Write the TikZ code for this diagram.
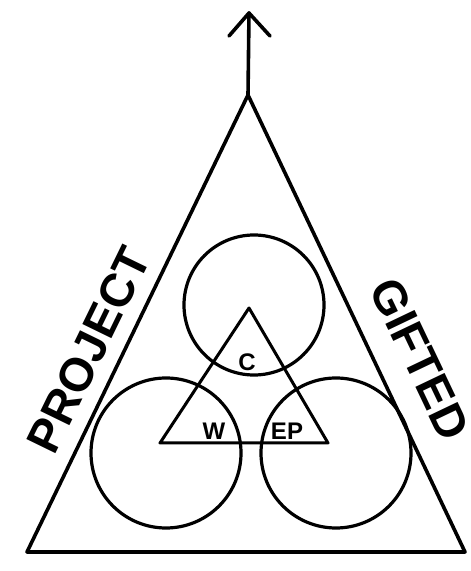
\documentclass[tikz,border=0pt]{standalone}
\usepackage{fontspec}
\setmainfont{Liberation Sans}
\begin{document}
\begin{tikzpicture}[x=1pt,y=1pt,
  heavy/.style={line width=3.6pt, line join=round, line cap=round},
  ring/.style={line width=3.2pt},
  inner/.style={line width=3pt, line join=round},
  biglabel/.style={font=\fontsize{47}{47}\selectfont\bfseries, inner sep=0pt},
  smalllabel/.style={font=\fontsize{24}{24}\selectfont\bfseries, inner sep=0pt}]
\useasboundingbox[fill=white] (0,0) rectangle (471,571);
% outer triangle
\coordinate (apex) at (248,476);
\coordinate (bl) at (27,19);
\coordinate (br) at (465,19);
\draw[heavy] (apex) -- (bl) -- (br) -- cycle;
% arrow
\coordinate (tip) at (249,558);
\coordinate (armL) at (229,535);
\coordinate (armR) at (270,535);
\draw[heavy] (apex) -- (tip);
\draw[heavy] (armL) -- (tip) -- (armR);
% circles
\node[ring, draw, circle, minimum size=140pt, inner sep=0pt] (ctop) at (254,266) {};
\node[ring, draw, circle, minimum size=150pt, inner sep=0pt] (cleft) at (166,118) {};
\node[ring, draw, circle, minimum size=150pt, inner sep=0pt] (cright) at (336,118) {};
% inner triangle
\coordinate (ia) at (249,263);
\coordinate (ibl) at (160,128);
\coordinate (ibr) at (328,128);
\draw[inner] (ia) -- (ibl) -- (ibr) -- cycle;
% labels
\node[smalllabel] (lc) at (247,209) {C};
\node[smalllabel] (lw) at (214,140) {W};
\node[smalllabel] (lep) at (287,140) {EP};
\node[biglabel, rotate=64] (project) at (89,221) {PROJECT};
\node[biglabel, rotate=-64.5] (gifted) at (420,212) {GIFTED};
\end{tikzpicture}
\end{document}
